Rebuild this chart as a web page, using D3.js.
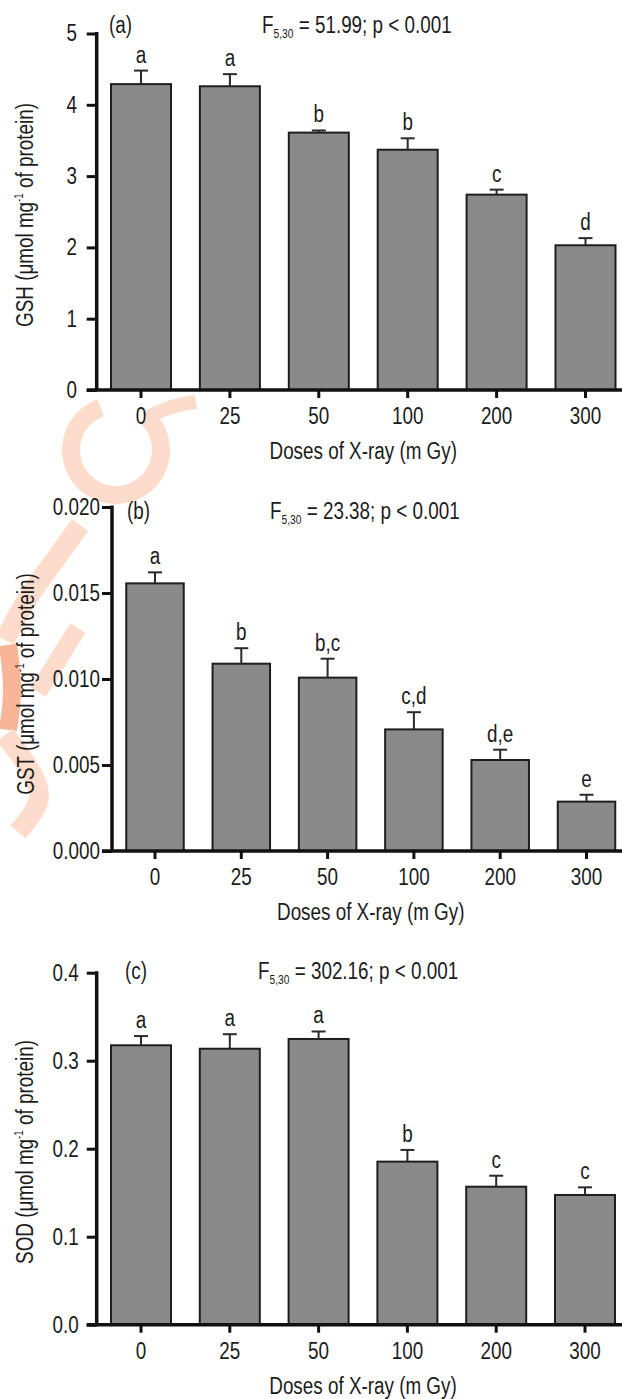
<!DOCTYPE html>
<html><head><meta charset="utf-8">
<script src="https://cdn.jsdelivr.net/npm/d3@7"></script>
<style>
html,body{margin:0;padding:0;background:#fff;}
svg{display:block;}
</style></head>
<body>
<svg id="chart" width="622" height="1399"></svg>
<script>
// ---------------- data ----------------
const doses = ["0", "25", "50", "100", "200", "300"];
const xTitle = "Doses of X-ray (m Gy)";

const gshMean    = [4.29, 4.26, 3.61, 3.37, 2.74, 2.03];
const gshErr     = [0.19, 0.17, 0.03, 0.16, 0.07, 0.10];
const gshLetters = ["a", "a", "b", "b", "c", "d"];
const gshTicks   = [0, 1, 2, 3, 4, 5];

const gstMean    = [0.01556, 0.01089, 0.01008, 0.00707, 0.00529, 0.00287];
const gstErr     = [0.00064, 0.00090, 0.00110, 0.00100, 0.00060, 0.00040];
const gstLetters = ["a", "b", "b,c", "c,d", "d,e", "e"];
const gstTicks   = [0, 0.005, 0.010, 0.015, 0.020];

const sodMean    = [0.3175, 0.3136, 0.3247, 0.1853, 0.1568, 0.1474];
const sodErr     = [0.0105, 0.0165, 0.0085, 0.0133, 0.0125, 0.0087];
const sodLetters = ["a", "a", "a", "b", "c", "c"];
const sodTicks   = [0, 0.1, 0.2, 0.3, 0.4];

const panelTags  = ["(a)", "(b)", "(c)"];
const fValues    = ["51.99", "23.38", "302.16"];
const yNames     = ["GSH", "GST", "SOD"];

// ---------------- font ----------------
function hasFont(name){
  const c = document.createElement('canvas').getContext('2d');
  const s = "Doses of X-ray (m Gy) 0123456789";
  c.font = "40px monospace"; const a = c.measureText(s).width;
  c.font = `40px "${name}", monospace`; const b = c.measureText(s).width;
  return Math.abs(a - b) > 0.5;
}
let FONT, SQ;
if (hasFont("Liberation Sans Narrow")) { FONT = "'Liberation Sans Narrow', sans-serif"; SQ = 1; }
else { FONT = "'Liberation Sans', Arial, sans-serif"; SQ = 0.82; }
const FS = 23;
const TXT = "#1c1c1c";

function squeeze(sel){
  if (SQ === 1) return;
  sel.each(function(){
    const t = d3.select(this);
    const x = +t.attr("x") || 0;
    const tr = t.attr("transform") || "";
    t.attr("transform", `${tr} translate(${x},0) scale(${SQ},1) translate(${-x},0)`);
  });
}

const svg = d3.select("#chart");

// ---------------- watermark (approximate) ----------------
const WM = "#fddccb";
const wm = svg.append("g");
const arc = d3.arc();
const curve = d3.line().curve(d3.curveBasis);
wm.append("path")
  .attr("transform", "translate(116,450)")
  .attr("fill", WM)
  .attr("d", arc({innerRadius: 36, outerRadius: 54, startAngle: 0.75, endAngle: 2 * Math.PI - 0.35}));
wm.append("path").attr("fill", "none").attr("stroke", WM).attr("stroke-width", 14)
  .attr("d", curve([[146, 418], [170, 406], [196, 402]]));
wm.append("path").attr("fill", "none").attr("stroke", WM).attr("stroke-width", 20)
  .attr("d", curve([[80, 525], [55, 560], [25, 600], [5, 640]]));
wm.append("path").attr("fill", "none").attr("stroke", WM).attr("stroke-width", 18)
  .attr("d", curve([[78, 628], [58, 660], [38, 692]]));
wm.append("path").attr("fill", "none").attr("stroke", "#f9b597").attr("stroke-width", 18)
  .attr("d", curve([[8, 645], [14, 690], [8, 730]]));
wm.append("path").attr("fill", "none").attr("stroke", WM).attr("stroke-width", 20)
  .attr("d", curve([[5, 735], [32, 770], [45, 800], [18, 832]]));

// ---------------- panels ----------------
const panels = [
  {mean: gshMean, err: gshErr, letters: gshLetters, ticks: gshTicks, fmt: d3.format("d"),
   ax: 96.7, c0: 141, step: 88.9, bw: 60, y0: 390, yTop: 33.5, max: 5, pad: 9.7,
   ylx: 33, yly: 215, tagX: 109, fX: 262, titleY: 33},
  {mean: gstMean, err: gstErr, letters: gstLetters, ticks: gstTicks, fmt: d3.format(".3f"),
   ax: 112, c0: 155, step: 86.3, bw: 57.5, y0: 851, yTop: 507, max: 0.02, pad: 2,
   ylx: 34, yly: 684, tagX: 127, fX: 270, titleY: 519},
  {mean: sodMean, err: sodErr, letters: sodLetters, ticks: sodTicks, fmt: d3.format(".1f"),
   ax: 96.7, c0: 141, step: 88.8, bw: 60, y0: 1324.7, yTop: 972.7, max: 0.4, pad: 8,
   ylx: 33, yly: 1152, tagX: 125, fX: 258, titleY: 979}
];

panels.forEach((P, k) => {
  const n = doses.length;
  const pi = 1 - P.bw / P.step;
  const po = (P.c0 - P.bw / 2 - P.ax) / P.step;
  const x = d3.scaleBand().domain(doses)
    .range([P.ax, P.ax + P.step * (n - pi + 2 * po)])
    .paddingInner(pi).paddingOuter(po);
  const y = d3.scaleLinear().domain([0, P.max]).range([P.y0, P.yTop]);
  const g = svg.append("g");

  // bars
  g.selectAll("rect.bar").data(doses).join("rect").attr("class", "bar")
    .attr("x", d => x(d)).attr("width", x.bandwidth())
    .attr("y", (d, i) => y(P.mean[i]))
    .attr("height", (d, i) => P.y0 - y(P.mean[i]))
    .attr("fill", "#8a8a8a").attr("stroke", "#1e1e1e").attr("stroke-width", 2);

  // error bars
  const eb = g.append("g").attr("stroke", "#2a2a2a").attr("stroke-width", 2);
  doses.forEach((d, i) => {
    const cx = x(d) + x.bandwidth() / 2;
    const yt = y(P.mean[i] + P.err[i]);
    eb.append("line").attr("x1", cx).attr("x2", cx).attr("y1", y(P.mean[i])).attr("y2", yt);
    eb.append("line").attr("x1", cx - 7).attr("x2", cx + 7).attr("y1", yt).attr("y2", yt);
  });

  // letters
  const lt = g.selectAll("text.sig").data(doses).join("text").attr("class", "sig")
    .attr("x", d => x(d) + x.bandwidth() / 2)
    .attr("y", (d, i) => y(P.mean[i] + P.err[i]) - 8)
    .attr("text-anchor", "middle")
    .attr("font-family", FONT).attr("font-size", FS).attr("fill", TXT)
    .text((d, i) => P.letters[i]);
  squeeze(lt);

  // y axis
  const ya = g.append("g").attr("transform", `translate(${P.ax},0)`)
    .call(d3.axisLeft(y).tickValues(P.ticks).tickFormat(P.fmt).tickSize(10).tickPadding(P.pad));
  ya.select(".domain").remove();
  ya.selectAll(".tick line").attr("stroke", "#111").attr("stroke-width", 3);
  ya.selectAll(".tick text").attr("font-family", FONT).attr("font-size", FS).attr("fill", TXT);
  squeeze(ya.selectAll(".tick text"));
  g.append("line").attr("x1", P.ax).attr("x2", P.ax)
    .attr("y1", P.y0).attr("y2", P.yTop - 1.5)
    .attr("stroke", "#111").attr("stroke-width", 3.5);

  // x axis
  const xa = g.append("g").attr("transform", `translate(0,${P.y0})`)
    .call(d3.axisBottom(x).tickSize(8).tickPadding(10));
  xa.select(".domain").remove();
  xa.selectAll(".tick line").attr("stroke", "#111").attr("stroke-width", 3);
  xa.selectAll(".tick text").attr("font-family", FONT).attr("font-size", FS).attr("fill", TXT);
  squeeze(xa.selectAll(".tick text"));
  g.append("line").attr("x1", P.ax - 10).attr("x2", 622)
    .attr("y1", P.y0).attr("y2", P.y0)
    .attr("stroke", "#111").attr("stroke-width", 3.5);

  // x title
  const xc = (x(doses[0]) + x(doses[n - 1]) + x.bandwidth()) / 2;
  const xt = g.append("text").attr("x", xc).attr("y", P.y0 + 69)
    .attr("text-anchor", "middle")
    .attr("font-family", FONT).attr("font-size", FS).attr("fill", TXT)
    .text(xTitle);
  squeeze(xt);

  // y title
  const yt = g.append("text")
    .attr("transform", `translate(${P.ylx},${P.yly}) rotate(-90)`)
    .attr("x", 0).attr("y", 0)
    .attr("text-anchor", "middle")
    .attr("font-family", FONT).attr("font-size", FS).attr("fill", TXT);
  yt.append("tspan").text(yNames[k] + " (μmol mg");
  yt.append("tspan").attr("font-size", 12).attr("dy", -10).text("-1");
  yt.append("tspan").attr("dy", 10).text(" of protein)");
  squeeze(yt);

  // panel tag
  const tg = g.append("text").attr("x", P.tagX).attr("y", P.titleY)
    .attr("font-family", FONT).attr("font-size", FS).attr("fill", TXT)
    .text(panelTags[k]);
  squeeze(tg);

  // F statistic
  const ft = g.append("text").attr("x", P.fX).attr("y", P.titleY)
    .attr("font-family", FONT).attr("font-size", FS).attr("fill", TXT);
  ft.append("tspan").text("F");
  ft.append("tspan").attr("font-size", 12.5).attr("dy", 5).text("5,30");
  ft.append("tspan").attr("dy", -5).text(" = " + fValues[k] + "; p < 0.001");
  squeeze(ft);
});
</script>
</body></html>
